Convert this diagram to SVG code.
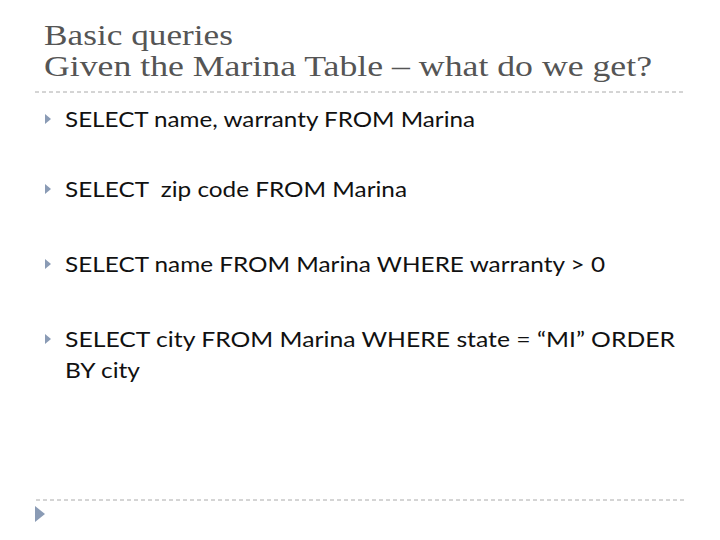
<svg xmlns="http://www.w3.org/2000/svg" width="720" height="540" viewBox="0 0 720 540">
<style>
.t{font-family:"Liberation Serif","DejaVu Serif",serif;font-size:29px;fill:#555}
.b{font-family:Lato,"Liberation Sans",sans-serif;font-size:22px;fill:#111}
.d{stroke:#aaa;stroke-width:1;stroke-dasharray:4 3}
.m{fill:#8a9bb5}
</style>
<rect width="720" height="540" fill="#fff"/>
<g id="title">
<text class="t" x="44" y="45" textLength="189" lengthAdjust="spacingAndGlyphs">Basic queries</text>
<text class="t" x="44" y="76" textLength="608" lengthAdjust="spacingAndGlyphs">Given the Marina Table – what do we get?</text>
</g>
<line class="d" x1="35" y1="92" x2="685" y2="92"/>
<line class="d" x1="36" y1="500" x2="685" y2="500"/>
<polygon class="m" points="35,506 45,514 35,522"/>
<g id="bullets">
<polygon class="m" points="45,114 51,119 45,124"/>
<text class="b" x="65" y="127" textLength="410" lengthAdjust="spacingAndGlyphs">SELECT name, warranty FROM Marina</text>
<polygon class="m" points="45,184 51,189 45,194"/>
<text class="b" x="65" y="197" textLength="342" lengthAdjust="spacingAndGlyphs" xml:space="preserve">SELECT  zip code FROM Marina</text>
<polygon class="m" points="45,259 51,264 45,269"/>
<text class="b" x="65" y="272" textLength="540" lengthAdjust="spacingAndGlyphs">SELECT name FROM Marina WHERE warranty &gt; 0</text>
<polygon class="m" points="45,334 51,339 45,344"/>
<text class="b" x="65" y="347" textLength="610" lengthAdjust="spacingAndGlyphs">SELECT city FROM Marina WHERE state = “MI” ORDER</text>
<text class="b" x="65" y="378" textLength="75" lengthAdjust="spacingAndGlyphs">BY city</text>
</g>
</svg>
